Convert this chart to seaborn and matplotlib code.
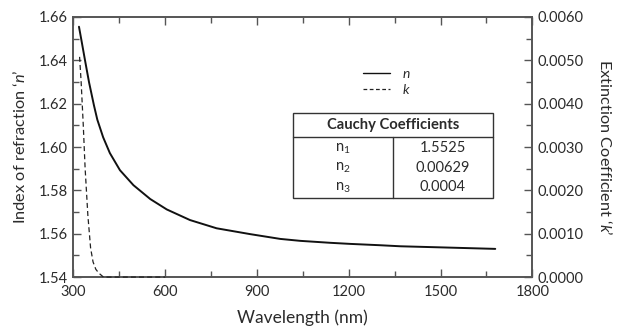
import numpy as np
import pandas as pd
import matplotlib
matplotlib.use("Agg")
import matplotlib.pyplot as plt
from matplotlib.lines import Line2D
from matplotlib.patches import Rectangle
from matplotlib.ticker import MultipleLocator, FormatStrFormatter
import seaborn as sns

# Data
wl_n = [318, 327, 338, 351, 367, 378, 397, 419, 452, 496, 551, 605, 681, 768, 878,
        976, 1042, 1140, 1205, 1300, 1369, 1500, 1679]
n_vals = [1.6555, 1.6485, 1.6398, 1.6298, 1.6192, 1.6126, 1.6045, 1.5972, 1.5893, 1.5824,
          1.5760, 1.5712, 1.5663, 1.5625, 1.5598, 1.5576, 1.5567, 1.5558, 1.5553, 1.5547,
          1.5542, 1.5537, 1.5530]
wl_k = [320, 325, 332, 338, 347, 356, 364, 373, 383, 398, 600]
k_vals = [0.00508, 0.00451, 0.00351, 0.00252, 0.00143, 0.00067, 0.00035, 0.00018, 0.00009, 0.0, 0.0]

coef_names = ["n$_1$", "n$_2$", "n$_3$"]
coef_vals = ["1.5525", "0.00629", "0.0004"]

sns.set_theme(style="white")
plt.rcParams['font.family'] = ['Lato', 'DejaVu Sans']
plt.rcParams['mathtext.fontset'] = 'custom'
plt.rcParams['mathtext.rm'] = 'Lato'
plt.rcParams['mathtext.it'] = 'Lato:italic'
TXT = "#2b2b2b"
SP = "#555555"

fig = plt.figure(figsize=(6.2, 3.33), dpi=100)
ax = fig.add_axes([0.1185, 0.168, 0.740, 0.781])
ax2 = ax.twinx()

df_n = pd.DataFrame({"wl": wl_n, "v": n_vals})
df_k = pd.DataFrame({"wl": wl_k, "v": k_vals})
sns.lineplot(data=df_n, x="wl", y="v", ax=ax, color="#111111", lw=1.4, legend=False)
sns.lineplot(data=df_k, x="wl", y="v", ax=ax2, color="#222222", lw=0.9, ls=(0, (4, 2.5)),
             legend=False, clip_on=False, zorder=5)

ax.set_xlim(300, 1800)
ax.set_ylim(1.54, 1.66)
ax2.set_ylim(0.0, 0.006)

ax.xaxis.set_major_locator(MultipleLocator(300))
ax.xaxis.set_minor_locator(MultipleLocator(150))
ax.yaxis.set_major_locator(MultipleLocator(0.02))
ax.yaxis.set_minor_locator(MultipleLocator(0.01))
ax2.yaxis.set_major_locator(MultipleLocator(0.001))
ax2.yaxis.set_minor_locator(MultipleLocator(0.0005))
ax.yaxis.set_major_formatter(FormatStrFormatter('%.2f'))
ax2.yaxis.set_major_formatter(FormatStrFormatter('%.4f'))

for a in (ax, ax2):
    for s in a.spines.values():
        s.set_color(SP)
        s.set_linewidth(1.2)
ax.tick_params(axis='x', which='both', direction='in', top=True, bottom=True, colors=SP,
               labelcolor=TXT, labelsize=10.5, pad=6)
ax.tick_params(axis='x', which='major', length=6, width=1)
ax.tick_params(axis='x', which='minor', length=4, width=1)
ax.tick_params(axis='y', which='both', direction='in', left=True, right=False, colors=SP,
               labelcolor=TXT, labelsize=10.5, pad=4)
ax.tick_params(axis='y', which='major', length=6, width=1)
ax.tick_params(axis='y', which='minor', length=4, width=1)
ax2.tick_params(axis='y', which='both', direction='in', right=True, left=False, colors=SP,
                labelcolor=TXT, labelsize=10.5, pad=4)
ax2.tick_params(axis='y', which='major', length=6, width=1)
ax2.tick_params(axis='y', which='minor', length=4, width=1)

ax.set_xlabel("Wavelength (nm)", fontsize=12.5, color=TXT, labelpad=7)
ax.set_ylabel("Index of refraction \u2018$\\mathit{n}$\u2019", fontsize=11.8, color=TXT, labelpad=8)
ax2.set_ylabel("Extinction Coefficient \u2018$\\mathit{k}$\u2019", fontsize=11.8, color=TXT,
               rotation=-90, labelpad=21)
ax.grid(False)
ax2.grid(False)

handles = [Line2D([], [], color="#111111", lw=1.0),
           Line2D([], [], color="#222222", lw=0.9, ls=(0, (3, 2)))]
leg = ax.legend(handles, ["n", "k"], loc="upper left", bbox_to_anchor=(0.618, 0.825),
                frameon=False, fontsize=10, handlelength=2.0, handletextpad=0.9,
                labelspacing=0.3, borderaxespad=0)
for t in leg.get_texts():
    t.set_fontstyle("italic")
    t.set_color(TXT)

# Coefficient table
x0, y0, w, h = 0.478, 0.305, 0.436, 0.327
hdr = 0.095
tr = ax.transAxes
ax.add_patch(Rectangle((x0, y0), w, h, transform=tr, fill=False, ec="#333333", lw=1.0, zorder=5))
ax.plot([x0, x0 + w], [y0 + h - hdr] * 2, transform=tr, color="#333333", lw=1.0, zorder=5)
ax.plot([x0 + w / 2] * 2, [y0, y0 + h - hdr], transform=tr, color="#333333", lw=1.0, zorder=5)
ax.text(x0 + w / 2, y0 + h - hdr / 2, "Cauchy Coefficients", transform=tr, ha="center",
        va="center", fontsize=10.6, fontweight="bold", color=TXT)
row_y = [y0 + h - hdr - 0.042, y0 + h - hdr - 0.118, y0 + h - hdr - 0.192]
for nm, val, yy in zip(coef_names, coef_vals, row_y):
    ax.text(x0 + w / 4, yy, nm, transform=tr, ha="center", va="center", fontsize=10.5, color=TXT)
    ax.text(x0 + 3 * w / 4, yy, val, transform=tr, ha="center", va="center", fontsize=10.5, color=TXT)

fig.savefig("out.png", dpi=100)
